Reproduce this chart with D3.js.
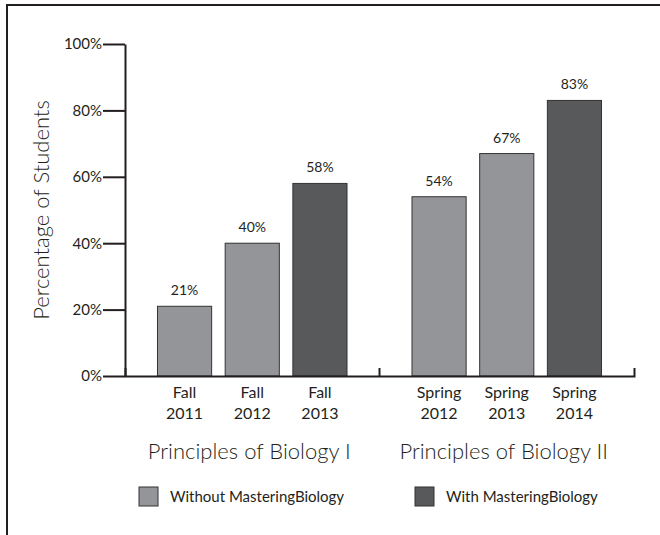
<!DOCTYPE html>
<html>
<head>
<meta charset="utf-8">
<script src="https://cdn.jsdelivr.net/npm/d3@7"></script>
<style>
  body { margin: 0; background: #fff; }
  svg { display: block; font-family: Lato, "Open Sans", sans-serif; }
</style>
</head>
<body>
<svg id="chart" width="660" height="535"></svg>
<script>
// Data
const courses = ["Principles of Biology I", "Principles of Biology II"];
const terms = [
  ["Fall 2011", "Fall 2012", "Fall 2013"],
  ["Spring 2012", "Spring 2013", "Spring 2014"]
];
const values = [
  [21, 40, 58],
  [54, 67, 83]
];
const withMB = [
  [false, false, true],
  [false, false, true]
];
const yTicks = [0, 20, 40, 60, 80, 100];
const legendLabels = ["Without MasteringBiology", "With MasteringBiology"];

const light = "#939598";
const dark = "#58595b";
const ink = "#231f20";

const svg = d3.select("#chart");

// Frame (top and left only)
svg.append("path")
  .attr("d", "M7,535V5H660")
  .attr("fill", "none")
  .attr("stroke", ink)
  .attr("stroke-width", 2);

// Scales
const y = d3.scaleLinear().domain([0, 100]).range([376, 44]);

const x0 = d3.scaleBand()
  .domain(courses)
  .range([125, 634])
  .padding(0);

const x1 = d3.scaleBand()
  .domain([0, 1, 2])
  .range([0, x0.bandwidth()])
  .paddingInner(0.2)
  .paddingOuter(0.48);

// Y axis
svg.append("g")
  .attr("transform", "translate(125,0)")
  .call(d3.axisLeft(y)
    .tickValues(yTicks)
    .tickSize(22)
    .tickSizeOuter(0)
    .tickPadding(1)
    .tickFormat(d => d + "%"))
  .call(g => g.selectAll("path, line").attr("stroke", ink).attr("stroke-width", 2))
  .call(g => g.selectAll("text")
    .attr("fill", ink)
    .style("font-size", "15px")
    .style("font-family", "Lato, sans-serif"));

// Y axis title
svg.append("text")
  .attr("transform", `translate(49,${(y(0) + y(100)) / 2}) rotate(-90)`)
  .attr("text-anchor", "middle")
  .attr("fill", ink)
  .style("font-size", "22px")
  .style("font-weight", 300)
  .text("Percentage of Students");

// Bars
const rows = courses.flatMap((c, i) => terms[i].map((t, j) => ({
  course: c, idx: j, term: t, value: values[i][j], mb: withMB[i][j]
})));

svg.selectAll("rect.bar")
  .data(rows)
  .join("rect")
  .attr("class", "bar")
  .attr("x", d => x0(d.course) + x1(d.idx))
  .attr("y", d => y(d.value))
  .attr("width", x1.bandwidth())
  .attr("height", d => y(0) - y(d.value))
  .attr("fill", d => d.mb ? dark : light)
  .attr("stroke", "#333")
  .attr("stroke-width", 1);

// Value labels
svg.selectAll("text.val")
  .data(rows)
  .join("text")
  .attr("class", "val")
  .attr("x", d => x0(d.course) + x1(d.idx) + x1.bandwidth() / 2)
  .attr("y", d => y(d.value) - 11)
  .attr("text-anchor", "middle")
  .attr("fill", ink)
  .style("font-size", "14px")
  .text(d => d.value + "%");

// X axis line with upward end ticks
svg.append("g")
  .attr("transform", `translate(0,${y(0)})`)
  .call(d3.axisBottom(x0).tickValues([]).tickSizeOuter(-8))
  .call(g => g.select(".domain").attr("stroke", ink).attr("stroke-width", 2));

// Divider tick between the two courses
svg.selectAll("line.div")
  .data(courses.slice(0, -1))
  .join("line")
  .attr("class", "div")
  .attr("x1", d => x0(d) + x0.bandwidth())
  .attr("x2", d => x0(d) + x0.bandwidth())
  .attr("y1", y(0))
  .attr("y2", y(0) - 8)
  .attr("stroke", ink)
  .attr("stroke-width", 2);

// Term labels (two lines)
const termText = svg.selectAll("text.term")
  .data(rows)
  .join("text")
  .attr("class", "term")
  .attr("text-anchor", "middle")
  .attr("fill", ink)
  .style("font-size", "16px");

termText.selectAll("tspan")
  .data(d => d.term.split(" ").map(s => ({ s, cx: x0(d.course) + x1(d.idx) + x1.bandwidth() / 2 })))
  .join("tspan")
  .attr("x", d => d.cx)
  .attr("y", (d, i) => 398 + i * 21)
  .text(d => d.s);

// Course labels
svg.selectAll("text.course")
  .data(courses)
  .join("text")
  .attr("class", "course")
  .attr("x", d => x0(d) + x0.bandwidth() / 2 - 3)
  .attr("y", 459)
  .attr("text-anchor", "middle")
  .attr("fill", ink)
  .style("font-size", "22px")
  .style("font-weight", 300)
  .text(d => d);

// Legend
const legendX = [139, 415];
const legend = svg.selectAll("g.legend")
  .data(legendLabels)
  .join("g")
  .attr("class", "legend")
  .attr("transform", (d, i) => `translate(${legendX[i]},487)`);

legend.append("rect")
  .attr("width", 19)
  .attr("height", 19)
  .attr("fill", (d, i) => i ? dark : light)
  .attr("stroke", "#333")
  .attr("stroke-width", 1);

legend.append("text")
  .attr("x", 31)
  .attr("y", 15)
  .attr("fill", ink)
  .style("font-size", "15px")
  .text(d => d);
</script>
</body>
</html>
